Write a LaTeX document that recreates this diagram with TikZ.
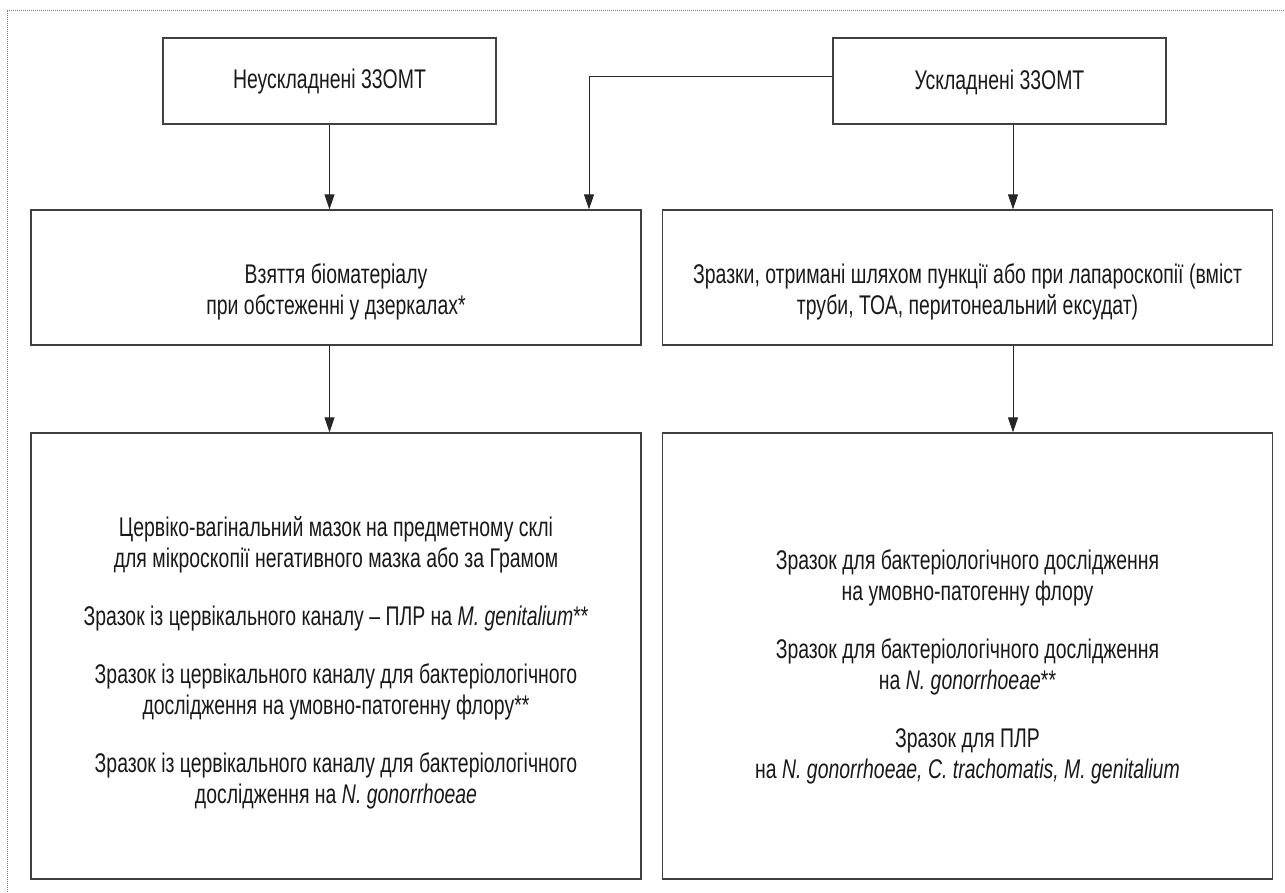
\documentclass[tikz,border=0pt]{standalone}
\usepackage{fontspec}
\setmainfont[FakeStretch=0.72]{Liberation Sans}
\usetikzlibrary{arrows.meta}

\tikzset{
  box/.style={draw=black!75, line width=1.3pt, inner sep=0pt},
  topbox/.style={box, minimum width=333pt, minimum height=86pt},
  midbox/.style={box, minimum width=610pt, minimum height=135pt},
  lowbox/.style={box, minimum width=610pt, minimum height=446pt},
  txt/.style={align=center, text=black!90, inner sep=0pt,
    font=\fontsize{27}{31}\selectfont},
  arr/.style={draw=black!85, line width=1pt, -{Triangle[length=15pt,width=10pt]}}
}

\begin{document}
\begin{tikzpicture}[x=1pt,y=-1pt] %Схема взяття біоматеріалу
            \useasboundingbox (0,0) rectangle (1285,892);
            \draw[black!50, line width=0.8pt, dash pattern=on 1pt off 1pt] (7,892) -- (7,10) -- (1285,10);

            \coordinate (A) at (329.5,81);
            \coordinate (B) at (999.5,81);
            \coordinate (C) at (336,277.5);
            \coordinate (D) at (967.5,277.5);
            \coordinate (E) at (336,656);
            \coordinate (F) at (967.5,656);

            \coordinate (elbow) at (589,76);
            \coordinate (rline) at (1013,124);

            \node[topbox] (uncompl) at (A) {};
            \node[topbox] (compl) at (B) {};
            \node[midbox] (sample) at (C) {};
            \node[midbox] (punct) at (D) {};
            \node[lowbox] (lowL) at (E) {};
            \node[lowbox] (lowR) at (F) {};

            \node[txt] (uncompltxt) at (329.5,82) {Неускладнені 33ОМТ};
            \node[txt] (compltxt) at (999.5,82) {Ускладнені 33ОМТ};
            \node[txt] (sampletxt) at (336,292) {Взяття біоматеріалу\\при обстеженні у дзеркалах*};
            \node[txt] (puncttxt) at (967.5,292) {Зразки, отримані шляхом пункції або при лапароскопії (вміст\\труби, ТОА, перитонеальний ексудат)};

            \node[txt] (lowLtxt) at (336,663) {Цервіко-вагінальний мазок на предметному склі\\
              для мікроскопії негативного мазка або за Грамом\\[27pt]
              Зразок із цервікального каналу – ПЛР на \textit{M. genitalium}**\\[27pt]
              Зразок із цервікального каналу для бактеріологічного\\
              дослідження на умовно-патогенну флору**\\[27pt]
              Зразок із цервікального каналу для бактеріологічного\\
              дослідження на \textit{N. gonorrhoeae}};

            \node[txt] (lowRtxt) at (967.5,667) {Зразок для бактеріологічного дослідження\\
              на умовно-патогенну флору\\[27pt]
              Зразок для бактеріологічного дослідження\\
              на \textit{N. gonorrhoeae}**\\[27pt]
              Зразок для ПЛР\\
              на \textit{N. gonorrhoeae, C. trachomatis, M. genitalium}};

            \draw[arr] (uncompl.south) -- (uncompl.south |- sample.north);
            \draw[arr] (compl.west |- elbow) -- (elbow) -- (elbow |- sample.north);
            \draw[arr] (compl.south -| rline) -- (rline |- punct.north);

            \draw[arr] (sample.south -| uncompl.south) -- (lowL.north -| uncompl.south);
            \draw[arr] (punct.south -| rline) -- (lowR.north -| rline);
        \end{tikzpicture}
\end{document}
